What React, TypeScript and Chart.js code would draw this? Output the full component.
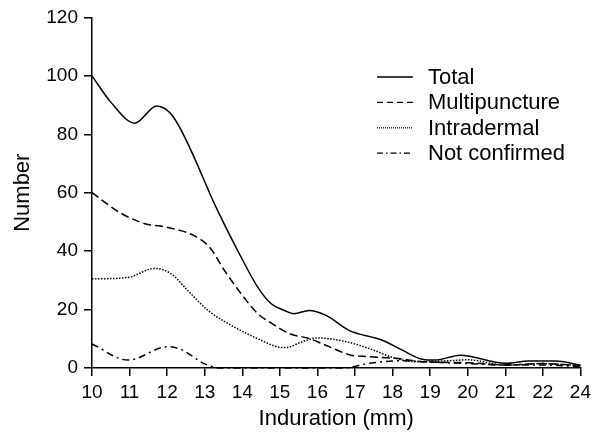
import React, { useEffect, useRef } from "react";
import { Chart, registerables } from "chart.js";

Chart.register(...registerables);

// Axis positions 10..23; the original axis labels its last tick "24" (23 is skipped)
const xTickLabels = ["10", "11", "12", "13", "14", "15", "16", "17", "18", "19", "20", "21", "22", "24"];
const yTicks = [0, 20, 40, 60, 80, 100, 120];

const seriesNames = ["Total", "Multipuncture", "Intradermal", "Not confirmed"];

const totalX = [10, 10.5, 11.14, 11.72, 12.16, 13.35, 13.97, 14.41, 14.77, 15.12, 15.38, 15.78, 16.23, 16.84, 17.73, 18.26, 18.79, 19.14, 19.8, 21, 21.62, 22.33, 23];
const totalY = [100, 91, 83.8, 89.7, 86, 53.7, 37.9, 27.7, 22, 19.7, 18.6, 19.7, 18, 12.9, 9.5, 6.1, 3, 2.7, 4.4, 1.6, 2.4, 2.4, 1];

const multiX = [10, 10.74, 11.41, 12.02, 12.73, 13.13, 13.53, 13.97, 14.41, 14.72, 15.25, 15.78, 16.31, 16.89, 17.37, 18.08, 18.88, 20, 21, 22, 23];
const multiY = [60, 53.2, 49.4, 48.1, 45.2, 41.3, 33.3, 25.4, 18.6, 15.8, 11.8, 10.1, 7.3, 4.4, 3.9, 3.3, 2.1, 1.8, 1, 1.5, 0.8];

const intraX = [10, 10.96, 11.67, 12.11, 12.55, 13.09, 13.79, 14.5, 14.94, 15.16, 15.6, 16, 16.76, 17.37, 18.08, 18.7, 19.5, 20, 21, 22, 23];
const intraY = [30.5, 31, 34.1, 32.2, 26.5, 19.7, 14, 9.5, 7.2, 7, 9, 10.3, 9, 6.7, 3.3, 2.1, 2.5, 2.8, 1, 1.5, 0.8];

const notConfX = [10, 10.96, 12.02, 12.38, 13, 13.4, 14, 15, 16, 16.7, 17.37, 18.26, 18.88, 20, 21, 22, 23];
const notConfY = [8.2, 2.7, 7.3, 6.3, 1.4, 0, 0, 0, 0, 0, 1.6, 2.5, 2.1, 1.5, 1, 1, 0.5];

const FONT = "'Liberation Sans', Arial, sans-serif";

function pts(xs: number[], ys: number[]) {
  return xs.map((x, i) => ({ x, y: ys[i] }));
}

const dashes = [[], [8, 4], [1.5, 1.5], [7, 4, 2, 4]];
const legendDashes = [[], [6, 4], [1, 1], [6, 3, 1.5, 3]];

const legendPlugin = {
  id: "customLegend",
  afterDraw(chart: any) {
    const ctx = chart.ctx;
    const x0 = 377;
    const lineLen = 36;
    const textX = 428;
    const y0 = 77;
    const row = 25.4;
    ctx.save();
    ctx.font = `22px ${FONT}`;
    ctx.fillStyle = "#000";
    ctx.textBaseline = "middle";
    ctx.textAlign = "left";
    chart.data.datasets.forEach((ds: any, i: number) => {
      const y = y0 + i * row;
      ctx.beginPath();
      ctx.setLineDash(legendDashes[i]);
      ctx.lineWidth = 1.3;
      ctx.strokeStyle = "#000";
      ctx.moveTo(x0, y);
      ctx.lineTo(x0 + lineLen, y);
      ctx.stroke();
      ctx.setLineDash([]);
      ctx.fillText(ds.label, textX, y + 1);
    });
    ctx.restore();
  },
};

export default function App() {
  const ref = useRef<HTMLCanvasElement | null>(null);

  useEffect(() => {
    if (!ref.current) return;
    const allData = [pts(totalX, totalY), pts(multiX, multiY), pts(intraX, intraY), pts(notConfX, notConfY)];
    const chart = new Chart(ref.current, {
      type: "line",
      data: {
        datasets: seriesNames.map((name, i) => ({
          label: name,
          data: allData[i],
          borderColor: "#000",
          borderWidth: 1.5,
          borderDash: dashes[i],
          pointRadius: 0,
          fill: false,
          clip: false as any,
          cubicInterpolationMode: "monotone" as const,
        })),
      },
      options: {
        animation: false,
        responsive: true,
        maintainAspectRatio: false,
        layout: { padding: { top: 15, right: 14, left: 0, bottom: 0 } },
        plugins: { legend: { display: false }, tooltip: { enabled: false } },
        scales: {
          x: {
            type: "linear",
            min: 10,
            max: 23,
            afterFit: (s: any) => { s.height = 70; },
            afterBuildTicks: (s: any) => {
              s.ticks = xTickLabels.map((_, i) => ({ value: 10 + i }));
            },
            ticks: {
              autoSkip: false,
              maxRotation: 0,
              color: "#000",
              padding: 5,
              font: { family: FONT, size: 19 },
              callback: (v: any) => xTickLabels[Math.round(v) - 10],
            },
            grid: { drawOnChartArea: false, drawTicks: true, tickLength: 8, color: "#000", lineWidth: 1.5 },
            border: { display: true, color: "#000", width: 1.5 },
            title: { display: true, text: "Induration (mm)", color: "#000", font: { family: FONT, size: 22 }, padding: { bottom: 6, top: 0 } },
          },
          y: {
            type: "linear",
            min: 0,
            max: 120,
            afterFit: (s: any) => { s.width = 92; },
            afterBuildTicks: (s: any) => {
              s.ticks = yTicks.map((v) => ({ value: v }));
            },
            ticks: { color: "#000", padding: 6, font: { family: FONT, size: 19 } },
            grid: { drawOnChartArea: false, drawTicks: true, tickLength: 8, color: "#000", lineWidth: 1.5 },
            border: { display: true, color: "#000", width: 1.5 },
            title: { display: true, text: "Number", color: "#000", font: { family: FONT, size: 22 }, padding: { top: 10, bottom: 0 } },
          },
        },
      },
      plugins: [legendPlugin],
    });
    return () => chart.destroy();
  }, []);

  return (
    <div style={{ position: "fixed", left: 0, top: 0, width: 596, height: 438, background: "#fff" }}>
      <canvas ref={ref} />
    </div>
  );
}
